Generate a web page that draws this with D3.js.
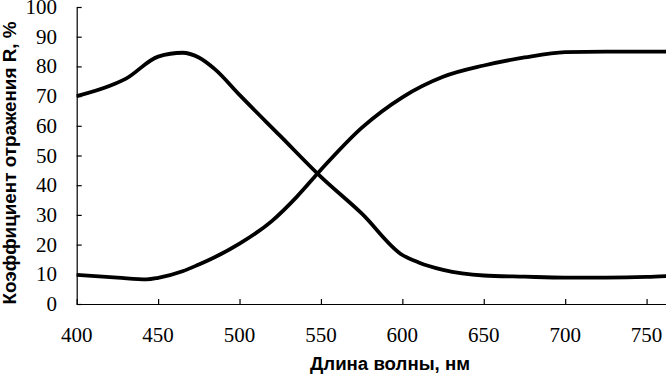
<!DOCTYPE html>
<html>
<head>
<meta charset="utf-8">
<script src="https://cdn.jsdelivr.net/npm/d3@7"></script>
<style>
  body { margin: 0; background: #fff; }
  svg { display: block; }
</style>
</head>
<body>
<div id="chart-area"></div>
<script>
// wavelengths, nm
let waves = [400, 420, 430, 450, 465, 475, 485, 500, 525, 550, 575, 600, 610, 625, 650, 675, 700, 725, 750, 765];
// reflectance of first sample, %
let seriesA = [70, 73.4, 75.8, 83.3, 84.6, 83, 79, 70.4, 56.6, 42.8, 30.5, 16.5, 14, 11.5, 9.6, 9.2, 8.9, 8.9, 9.1, 9.5];

let waves2 = [400, 425, 443, 450, 465, 475, 485, 500, 520, 535, 550, 575, 600, 625, 650, 675, 700, 725, 750, 765];
// reflectance of second sample, %
let seriesB = [9.8, 8.9, 8.3, 8.8, 11, 13.3, 15.8, 20.3, 28, 36, 45.2, 59.3, 69.6, 76.5, 80.3, 83, 84.8, 85, 85, 85];

let xTicks = [400, 450, 500, 550, 600, 650, 700, 750];
let yTicks = [0, 10, 20, 30, 40, 50, 60, 70, 80, 90, 100];

let W = 666, H = 376;

let svg = d3.select("#chart-area")
    .append("svg")
    .attr("width", W)
    .attr("height", H);

let x = d3.scaleLinear().domain([400, 800]).range([76.7, 728]);
let y = d3.scaleLinear().domain([0, 100]).range([304, 7]);

let sans = "Liberation Sans";
let serif = "Liberation Serif";

// X Axis (lines only, labels below)
let xAxisGroup = svg.append("g")
    .attr("transform", `translate(0,${y(0)})`)
    .call(d3.axisBottom(x).tickValues(xTicks).tickSizeInner(-5).tickSizeOuter(0).tickFormat(""));
xAxisGroup.select(".domain").attr("d", `M${x(400)},0.5H${W}`);

// Y Axis
let yAxisGroup = svg.append("g")
    .attr("transform", `translate(${x(400)},0)`)
    .call(d3.axisLeft(y).tickValues(yTicks).tickSizeInner(-5).tickSizeOuter(0).tickFormat(""));

svg.selectAll(".domain, .tick line").attr("stroke", "#000").attr("stroke-width", 1.2);

// tick labels
svg.selectAll(".xlab")
    .data(xTicks)
    .enter().append("text")
    .attr("class", "xlab")
    .attr("x", d => x(d))
    .attr("y", 342)
    .attr("text-anchor", "middle")
    .attr("font-family", serif)
    .attr("font-size", 21)
    .text(d => d);

svg.selectAll(".ylab")
    .data(yTicks)
    .enter().append("text")
    .attr("class", "ylab")
    .attr("x", 57)
    .attr("y", d => y(d) + 7)
    .attr("text-anchor", "end")
    .attr("font-family", serif)
    .attr("font-size", 21)
    .text(d => d);

// curves
let line = d3.line()
    .x(d => x(d[0]))
    .y(d => y(d[1]))
    .curve(d3.curveMonotoneX);

svg.append("path")
    .datum(d3.zip(waves, seriesA))
    .attr("d", line)
    .attr("fill", "none")
    .attr("stroke", "#000")
    .attr("stroke-width", 3.8);

svg.append("path")
    .datum(d3.zip(waves2, seriesB))
    .attr("d", line)
    .attr("fill", "none")
    .attr("stroke", "#000")
    .attr("stroke-width", 3.8);

// axis titles
svg.append("text")
    .attr("x", 390)
    .attr("y", 370)
    .attr("text-anchor", "middle")
    .attr("font-family", sans)
    .attr("font-weight", "bold")
    .attr("font-size", 18)
    .attr("textLength", 160)
    .attr("lengthAdjust", "spacingAndGlyphs")
    .text("Длина волны, нм");

svg.append("text")
    .attr("transform", "translate(16,163) rotate(-90)")
    .attr("text-anchor", "middle")
    .attr("font-family", sans)
    .attr("font-weight", "bold")
    .attr("font-size", 18)
    .attr("textLength", 283)
    .attr("lengthAdjust", "spacingAndGlyphs")
    .text("Коэффициент отражения R, %");
</script>
</body>
</html>
